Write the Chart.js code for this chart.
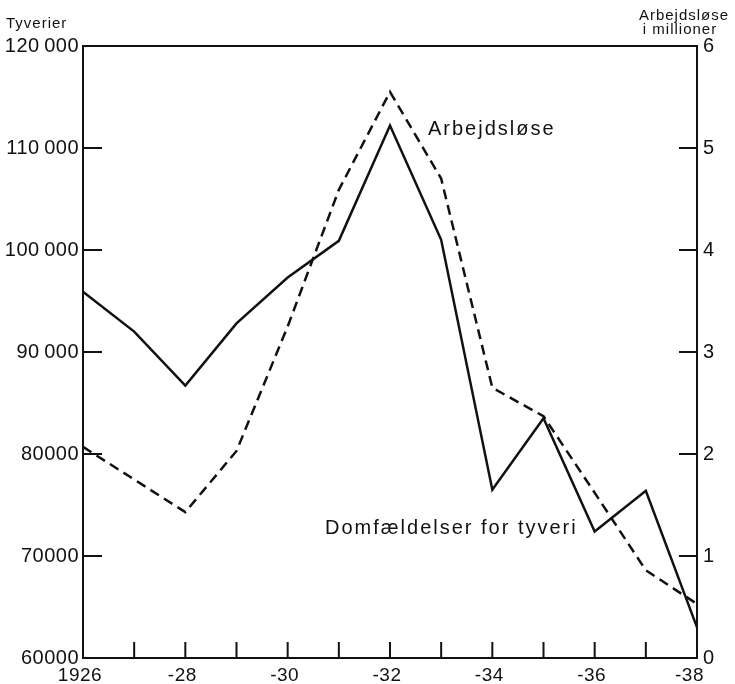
<!DOCTYPE html>
<html>
<head>
<meta charset="utf-8">
<script src="https://cdn.jsdelivr.net/npm/chart.js@4.4.0/dist/chart.umd.min.js"></script>
<style>
  html, body { margin: 0; padding: 0; background: #fff; }
  canvas { display: block; }
</style>
</head>
<body>
<canvas id="myChart" width="735" height="684"></canvas>
<script>
var years = ['1926', '1927', '1928', '1929', '1930', '1931', '1932', '1933', '1934', '1935', '1936', '1937', '1938'];
var yearLabels = ['1926', '', '-28', '', '-30', '', '-32', '', '-34', '', '-36', '', '-38'];

// domfaeldelser for tyveri (left axis)
var theft = [95900, 92000, 86700, 92800, 97300, 100900, 112200, 101000, 76500, 83500, 72400, 76400, 63000];
// arbejdsloese i millioner (right axis)
var unemployed = [2.07, 1.75, 1.43, 2.03, 3.25, 4.59, 5.55, 4.70, 2.65, 2.37, 1.62, 0.86, 0.53];

var theftTicks = [60000, 70000, 80000, 90000, 100000, 110000, 120000];
var theftTickLabels = ['60000', '70000', '80000', '90\u2009000', '100\u2009000', '110\u2009000', '120\u2009000'];
var unemployedTicks = [0, 1, 2, 3, 4, 5, 6];

var FONT = '"Liberation Sans", Arial, sans-serif';
var INK = '#111';

var frame = {
    id: 'frame',
    afterDraw: function (chart) {
        var ctx = chart.ctx;
        var a = chart.chartArea;
        var x = chart.scales.x;
        var y = chart.scales.y;
        var y2 = chart.scales.y2;
        var i, p;

        ctx.save();
        ctx.strokeStyle = INK;
        ctx.fillStyle = INK;
        ctx.lineWidth = 2;
        ctx.strokeRect(a.left, a.top, a.right - a.left, a.bottom - a.top);

        // tick marks point inwards
        ctx.beginPath();
        for (i = 1; i < years.length - 1; i++) {
            p = x.getPixelForValue(i);
            ctx.moveTo(p, a.bottom);
            ctx.lineTo(p, a.bottom - 16);
        }
        for (i = 1; i < theftTicks.length - 1; i++) {
            p = y.getPixelForValue(theftTicks[i]);
            ctx.moveTo(a.left, p);
            ctx.lineTo(a.left + 19, p);
        }
        for (i = 1; i < unemployedTicks.length - 1; i++) {
            p = y2.getPixelForValue(unemployedTicks[i]);
            ctx.moveTo(a.right, p);
            ctx.lineTo(a.right - 18, p);
        }
        ctx.stroke();

        ctx.letterSpacing = '0.5px';
        ctx.font = '20px ' + FONT;
        ctx.textBaseline = 'middle';
        ctx.textAlign = 'right';
        for (i = 0; i < theftTicks.length; i++) {
            ctx.fillText(theftTickLabels[i], a.left - 4, y.getPixelForValue(theftTicks[i]));
        }
        ctx.textAlign = 'left';
        for (i = 0; i < unemployedTicks.length; i++) {
            ctx.fillText(String(unemployedTicks[i]), a.right + 6, y2.getPixelForValue(unemployedTicks[i]));
        }

        ctx.font = '19px ' + FONT;
        ctx.textBaseline = 'top';
        for (i = 0; i < yearLabels.length; i++) {
            if (!yearLabels[i]) continue;
            p = x.getPixelForValue(i);
            if (i === yearLabels.length - 1) {
                ctx.textAlign = 'right';
                ctx.fillText(yearLabels[i], p + 7, a.bottom + 8);
            } else {
                ctx.textAlign = 'center';
                ctx.fillText(yearLabels[i], p - 3, a.bottom + 8);
            }
        }

        // axis titles
        ctx.letterSpacing = '1px';
        ctx.font = '15px ' + FONT;
        ctx.textBaseline = 'alphabetic';
        ctx.textAlign = 'left';
        ctx.fillText('Tyverier', 6, 28);
        ctx.textAlign = 'center';
        ctx.fillText('Arbejdsløse', 684, 20);
        ctx.fillText('i millioner', 680, 34);

        // line labels
        ctx.font = '20px ' + FONT;
        ctx.letterSpacing = '2px';
        ctx.textAlign = 'left';
        ctx.textBaseline = 'middle';
        ctx.fillText('Arbejdsløse', 428, 129);
        ctx.fillText('Domfældelser for tyveri', 325, 528);
        ctx.restore();
    }
};

new Chart('myChart', {
    type: 'line',
    data: {
        labels: years,
        datasets: [{
            label: 'Domfældelser for tyveri',
            data: theft,
            yAxisID: 'y',
            borderColor: INK,
            borderWidth: 2.5,
            pointRadius: 0,
            tension: 0,
            fill: false
        }, {
            label: 'Arbejdsløse',
            data: unemployed,
            yAxisID: 'y2',
            borderColor: INK,
            borderWidth: 2.5,
            borderDash: [10, 6],
            pointRadius: 0,
            tension: 0,
            fill: false
        }]
    },
    options: {
        responsive: false,
        animation: false,
        layout: {
            padding: { left: 83, right: 38, top: 46, bottom: 26 }
        },
        plugins: {
            legend: { display: false },
            tooltip: { enabled: false }
        },
        scales: {
            x: { display: false, offset: false },
            y: { display: false, position: 'left', min: 60000, max: 120000 },
            y2: { display: false, position: 'right', min: 0, max: 6 }
        }
    },
    plugins: [frame]
});
</script>
</body>
</html>
